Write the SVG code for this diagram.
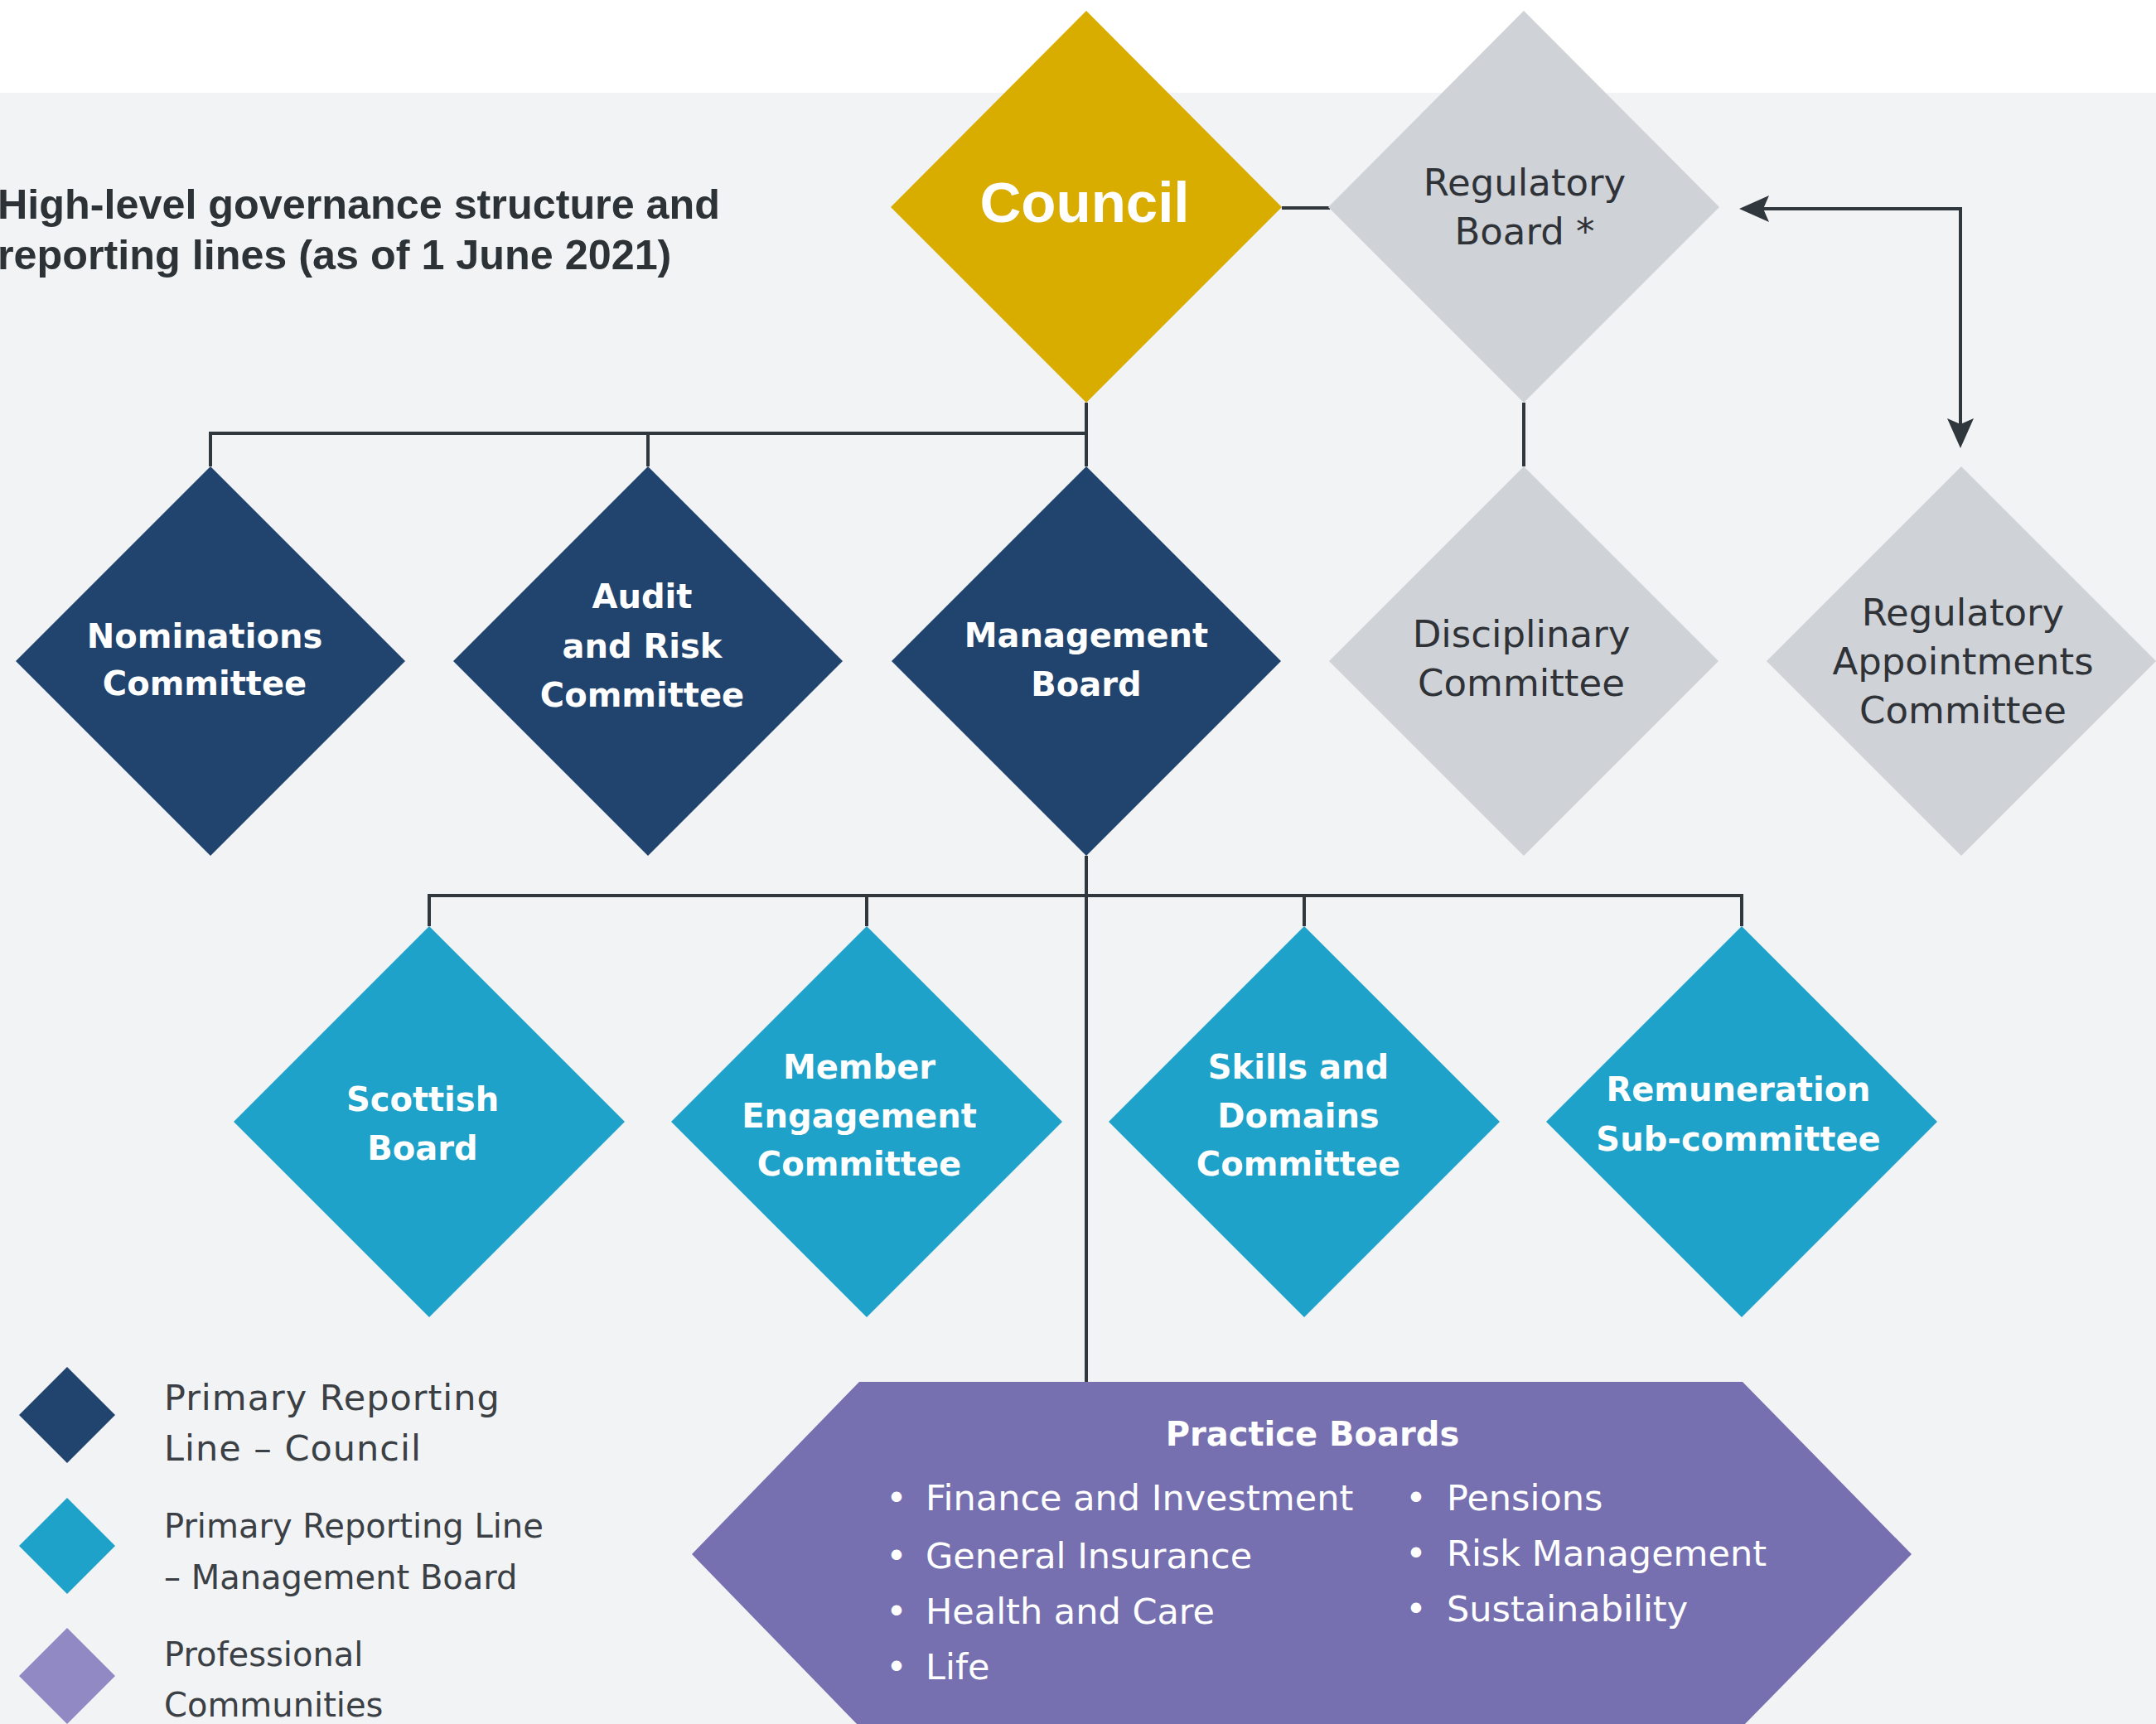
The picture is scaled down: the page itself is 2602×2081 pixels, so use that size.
<svg xmlns="http://www.w3.org/2000/svg" width="2602" height="2081" viewBox="0 0 2602 2081">
<style>
.bg{fill:#f2f3f5}
.gold{fill:#d9ac00}
.grey{fill:#cfd2d7}
.navy{fill:#21446e}
.cyan{fill:#1fa2c9}
.purple{fill:#7670b0}
.lpurple{fill:#9189c4}
.conn{fill:none;stroke:#30373d;stroke-width:4}
.wt{font-family:"DejaVu Sans",sans-serif;font-weight:bold;font-size:40px;fill:#ffffff;text-anchor:middle}
.gt{font-family:"DejaVu Sans",sans-serif;font-size:45px;fill:#2f3337;text-anchor:middle}
.lt{font-family:"DejaVu Sans",sans-serif;font-size:40px;fill:#3b4045}
.lt1{font-size:43px;letter-spacing:1px}
.pt{font-family:"DejaVu Sans",sans-serif;font-size:43px;fill:#ffffff}
.title{font-family:"Liberation Sans",Arial,sans-serif;font-weight:bold;font-size:50.3px;fill:#2d3236}
</style>
<defs>
<marker id="arr" viewBox="0 0 36 32" refX="15" refY="16" markerWidth="36" markerHeight="32" markerUnits="userSpaceOnUse" orient="auto-start-reverse">
<path d="M0,0 L36,16 L0,32 L7,16 z" fill="#30373d"/>
</marker>
</defs>
<rect x="0" y="0" width="2602" height="2081" fill="#ffffff"/>
<rect class="bg" x="0" y="112" width="2602" height="1969"/>

<g id="title">
<text class="title" x="-3" y="264">High-level governance structure and</text>
<text class="title" x="-3" y="325">reporting lines (as of 1 June 2021)</text>
</g>

<g id="connectors">
<path class="conn" d="M1311,486 V563 M254,563 V523 H1311 M782,523 V563"/>
<path class="conn" d="M1547,251 H1605"/>
<path class="conn" d="M1839,486 V563"/>
<path class="conn" d="M1311,1033 V1668 M518,1118 V1081 H2102 V1118 M1046,1081 V1118 M1574,1081 V1118"/>
<path class="conn" d="M2120,252 H2366 V520" marker-start="url(#arr)" marker-end="url(#arr)"/>
</g>

<g id="council">
<polygon class="gold" points="1311,13 1547,250 1311,486 1075,250"/>
<text x="1309" y="268" font-family="Liberation Sans, Arial, sans-serif" font-weight="bold" font-size="69" fill="#ffffff" text-anchor="middle">Council</text>
</g>

<g id="regulatory-board">
<polygon class="grey" points="1839,13 2075,250 1839,486 1603,250"/>
<text class="gt" x="1840" y="236">Regulatory</text>
<text class="gt" x="1840" y="295">Board *</text>
</g>

<g id="nominations">
<polygon class="navy" points="254,563 489,798 254,1033 19,798"/>
<text class="wt" x="247" y="782">Nominations</text>
<text class="wt" x="247" y="839">Committee</text>
</g>

<g id="audit-risk">
<polygon class="navy" points="782,563 1017,798 782,1033 547,798"/>
<text class="wt" x="775" y="734">Audit</text>
<text class="wt" x="775" y="794">and Risk</text>
<text class="wt" x="775" y="853">Committee</text>
</g>

<g id="management-board">
<polygon class="navy" points="1311,563 1546,798 1311,1033 1076,798"/>
<text class="wt" x="1311" y="781">Management</text>
<text class="wt" x="1311" y="840">Board</text>
</g>

<g id="disciplinary">
<polygon class="grey" points="1839,563 2074,798 1839,1033 1604,798"/>
<text class="gt" x="1836" y="781">Disciplinary</text>
<text class="gt" x="1836" y="840">Committee</text>
</g>

<g id="regulatory-appointments">
<polygon class="grey" points="2367,563 2602,798 2367,1033 2132,798"/>
<text class="gt" x="2369" y="755">Regulatory</text>
<text class="gt" x="2369" y="814">Appointments</text>
<text class="gt" x="2369" y="873">Committee</text>
</g>

<g id="scottish-board">
<polygon class="cyan" points="518,1118 754,1354 518,1590 282,1354"/>
<text class="wt" x="510" y="1341">Scottish</text>
<text class="wt" x="510" y="1400">Board</text>
</g>

<g id="member-engagement">
<polygon class="cyan" points="1046,1118 1282,1354 1046,1590 810,1354"/>
<text class="wt" x="1037" y="1302">Member</text>
<text class="wt" x="1037" y="1361">Engagement</text>
<text class="wt" x="1037" y="1419">Committee</text>
</g>

<g id="skills-domains">
<polygon class="cyan" points="1574,1118 1810,1354 1574,1590 1338,1354"/>
<text class="wt" x="1567" y="1302">Skills and</text>
<text class="wt" x="1567" y="1361">Domains</text>
<text class="wt" x="1567" y="1419">Committee</text>
</g>

<g id="remuneration">
<polygon class="cyan" points="2102,1118 2338,1354 2102,1590 1866,1354"/>
<text class="wt" x="2098" y="1329">Remuneration</text>
<text class="wt" x="2098" y="1389">Sub-committee</text>
</g>

<g id="practice-boards">
<polygon class="purple" points="1037,1668 2103,1668 2307,1876 2103,2084 1037,2084 835,1876"/>
<text class="wt" x="1584" y="1745">Practice Boards</text>
<text class="pt" x="1082" y="1823" text-anchor="middle">•</text>
<text class="pt" x="1117" y="1823">Finance and Investment</text>
<text class="pt" x="1082" y="1893" text-anchor="middle">•</text>
<text class="pt" x="1117" y="1893">General Insurance</text>
<text class="pt" x="1082" y="1960" text-anchor="middle">•</text>
<text class="pt" x="1117" y="1960">Health and Care</text>
<text class="pt" x="1082" y="2027" text-anchor="middle">•</text>
<text class="pt" x="1117" y="2027">Life</text>
<text class="pt" x="1709" y="1823" text-anchor="middle">•</text>
<text class="pt" x="1746" y="1823">Pensions</text>
<text class="pt" x="1709" y="1890" text-anchor="middle">•</text>
<text class="pt" x="1746" y="1890">Risk Management</text>
<text class="pt" x="1709" y="1957" text-anchor="middle">•</text>
<text class="pt" x="1746" y="1957">Sustainability</text>
</g>

<g id="legend">
<polygon class="navy" points="81,1650 139,1708 81,1766 23,1708"/>
<text class="lt lt1" x="198" y="1702">Primary Reporting</text>
<text class="lt lt1" x="198" y="1763">Line – Council</text>
<polygon class="cyan" points="81,1808 139,1866 81,1924 23,1866"/>
<text class="lt" x="198" y="1856">Primary Reporting Line</text>
<text class="lt" x="198" y="1918">– Management Board</text>
<polygon class="lpurple" points="81,1965 139,2023 81,2081 23,2023"/>
<text class="lt" x="198" y="2011">Professional</text>
<text class="lt" x="198" y="2072">Communities</text>
</g>
</svg>
